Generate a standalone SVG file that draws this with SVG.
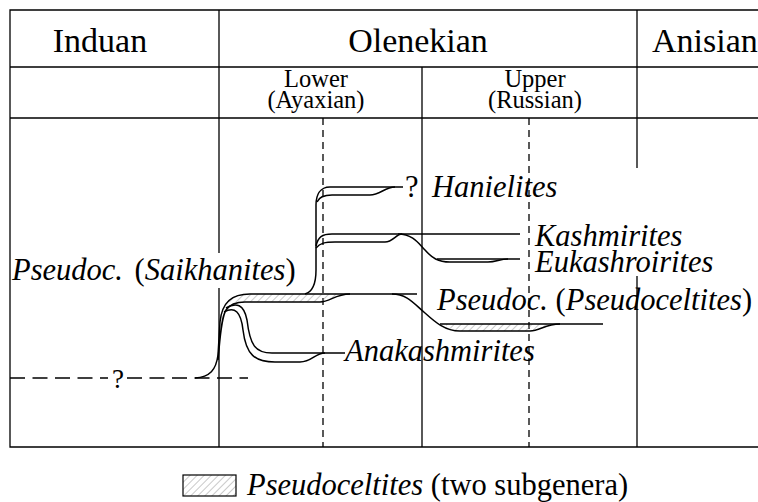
<svg xmlns="http://www.w3.org/2000/svg" width="758" height="502" viewBox="0 0 758 502">
<defs>
<pattern id="hatch" patternUnits="userSpaceOnUse" width="5" height="5" patternTransform="rotate(45)">
<line x1="0" y1="0" x2="0" y2="5" stroke="#888" stroke-width="0.9"/>
</pattern>
<style>
.grid{stroke:#000;stroke-width:1.3;fill:none}
.dash{stroke:#000;stroke-width:1.3;fill:none;stroke-dasharray:7 5}
.ln{stroke:#000;stroke-width:1.5;fill:none}
text{font-family:'Liberation Serif','DejaVu Serif','Noto Serif',serif;fill:#000}
.hd{font-size:34px}
.sub{font-size:24.5px}
.lab{font-size:30.5px;font-style:italic}
.up{font-style:normal}
</style>
</defs>
<g id="table">
<path class="grid" d="M758,10 H10 V447 H758 M10,67 H758 M10,118 H758 M219,10 V253 M219,288 V447 M637,10 V168 M637,276 V447 M422,67 V447"/>
<path class="dash" d="M323,118 V447 M529,118 V447"/>
</g>
<g id="headers">
<text class="hd" x="100" y="52" text-anchor="middle">Induan</text>
<text class="hd" x="418" y="52" text-anchor="middle">Olenekian</text>
<text class="hd" x="652" y="52">Anisian</text>
<text class="sub" x="316" y="87" text-anchor="middle">Lower</text>
<text class="sub" x="316" y="108" text-anchor="middle">(Ayaxian)</text>
<text class="sub" x="535" y="87" text-anchor="middle">Upper</text>
<text class="sub" x="535" y="108" text-anchor="middle">(Russian)</text>
</g>
<g id="connectors">
<path class="ln" d="M10,378 H108" style="stroke-dasharray:15 7.5;stroke-width:1.3"/>
<path class="ln" d="M127,378 H248" style="stroke-dasharray:15 7.5;stroke-width:1.3"/>
<path d="M228,302 C234,295 240,294 250,294 L350,294 C335,294 330,302 320,302 L245,302 Z" fill="url(#hatch)" stroke="none"/>
<path d="M445,324 L555,324 C545,324 540,331 530,331 L460,331 C452,331 448,328 445,324 Z" fill="url(#hatch)" stroke="none"/>
<path class="ln" d="M195,378 C210,377 216,370 218,355 L220,322 C222,302 232,294 250,294 L417,294"/>
<path class="ln" d="M218,360 C220,340 221,318 226,310 C230,304 236,302 245,302 L320,302 C330,302 335,294 350,294"/>
<path class="ln" d="M226,308 C236,302 244,304 247,320 C250,345 255,353 272,353 L345,353"/>
<path class="ln" d="M224,312 C235,306 241,312 243,330 C246,355 255,362 275,362 L300,362 C312,362 315,353 325,353"/>
<path class="ln" d="M305,294 C312,292 316,285 316,270 L316,205 C316,195 320,187 330,187 L403,187"/>
<path class="ln" d="M317,202 C319,197 323,195 332,195 L370,195 C380,195 385,187 395,187"/>
<path class="ln" d="M316,246 C318,237 322,234 332,234 L520,234"/>
<path class="ln" d="M316,248 C320,243 325,242 335,242 L385,242 C393,242 396,234 402,234"/>
<path class="ln" d="M398,234 C413,234 419,244 425,250 C432,258 438,262 450,262 L488,262 C496,262 500,259 508,259"/>
<path class="ln" d="M437,259 L520,259"/>
<path class="ln" d="M392,294 C408,294 415,305 425,313 C435,322 445,331 460,331 L530,331 C540,331 545,324 560,324"/>
<path class="ln" d="M440,324 L603,324"/>
</g>
<g id="labels">
<text class="sub" x="118" y="388" text-anchor="middle" style="font-size:27px">?</text>
<text class="lab" x="405" y="197"><tspan class="up">?</tspan></text>
<text class="lab" x="432" y="197">Hanielites</text>
<text class="lab" x="535" y="246">Kashmirites</text>
<text class="lab" x="535" y="272">Eukashroirites</text>
<text class="lab" x="437" y="310">Pseudoc. <tspan class="up">(</tspan>Pseudoceltites<tspan class="up">)</tspan></text>
<text class="lab" x="12" y="280" word-spacing="4">Pseudoc. <tspan class="up">(</tspan>Saikhanites<tspan class="up">)</tspan></text>
<text class="lab" x="345" y="361">Anakashmirites</text>
</g>
<g id="legend">
<rect x="183" y="475" width="53" height="21" fill="url(#hatch)" stroke="#000" stroke-width="1.2"/>
<text class="lab" x="247" y="495">Pseudoceltites <tspan class="up">(two subgenera)</tspan></text>
</g>
</svg>
